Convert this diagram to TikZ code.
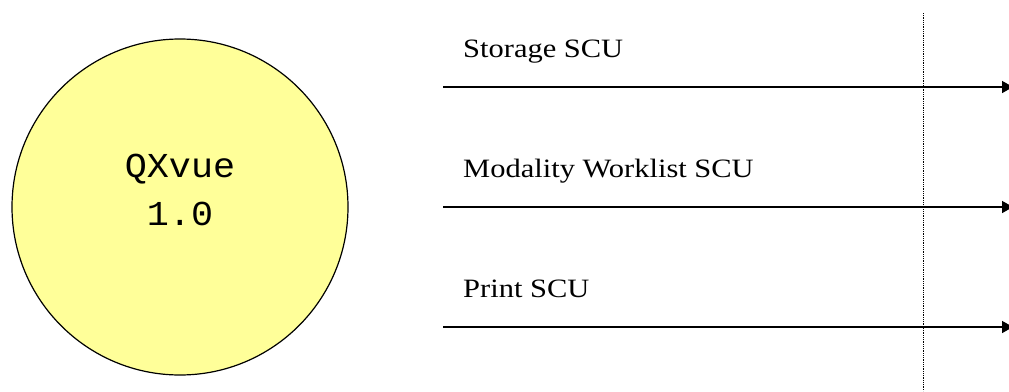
\documentclass[tikz,border=0pt]{standalone}
\usepackage{fontspec}
\setmainfont{Liberation Serif}
\newfontfamily\monofont{Liberation Mono}
\usetikzlibrary{arrows.meta}
\definecolor{qxfill}{HTML}{FFFF99}
\tikzset{
  lbl/.style={anchor=base west, inner sep=0pt, xscale=1.15, font=\fontsize{26.5}{30}\selectfont},
  qxtext/.style={anchor=base, inner sep=0pt, xscale=1.05, font=\monofont\fontsize{35}{40}\selectfont},
  flow/.style={line width=1.5pt, -{Triangle[length=11pt,width=12pt]}},
  bound/.style={densely dotted, line width=0.8pt}
}
\begin{document}
\begin{tikzpicture}[x=1pt,y=-1pt]
\useasboundingbox (0,0) rectangle (1009,391);
\node[circle, draw, line width=1.2pt, fill=qxfill, minimum size=336pt, inner sep=0pt] (qx) at (180,207) {};
\node[qxtext] (t1) at (180,177) {QXvue};
\node[qxtext] (t2) at (180,225) {1.0};
\node[lbl] (l1) at (463,57) {Storage SCU};
\node[lbl] (l2) at (463,177) {Modality Worklist SCU};
\node[lbl] (l3) at (463,297) {Print SCU};
\coordinate (s1) at (443,87); \coordinate (e1) at (1013,87);
\coordinate (s2) at (443,207); \coordinate (e2) at (1013,207);
\coordinate (s3) at (443,327); \coordinate (e3) at (1013,327);
\draw[flow] (s1) -- (e1);
\draw[flow] (s2) -- (e2);
\draw[flow] (s3) -- (e3);
\coordinate (d1) at (923,13); \coordinate (d2) at (923,391);
\draw[bound] (d1) -- (d2);
\end{tikzpicture}
\end{document}
